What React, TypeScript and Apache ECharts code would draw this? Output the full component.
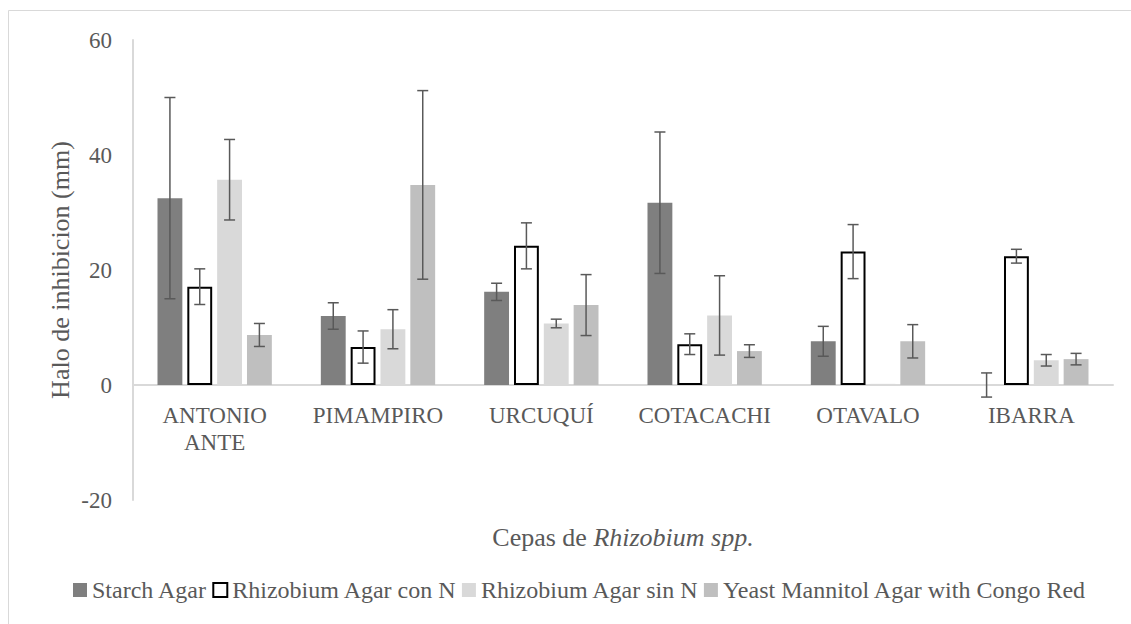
import React, { useEffect, useRef } from "react";
import * as echarts from "echarts";

const categories = ["ANTONIO\nANTE", "PIMAMPIRO", "URCUQUÍ", "COTACACHI", "OTAVALO", "IBARRA"];
const seriesNames = [
  "Starch Agar",
  "Rhizobium Agar con N",
  "Rhizobium Agar sin N",
  "Yeast Mannitol Agar with Congo Red",
];
const starch = [32.5, 12.0, 16.2, 31.7, 7.6, 0];
const starchErr = [17.5, 2.3, 1.5, 12.3, 2.6, 2.1];
const rhizoCon = [17.1, 6.6, 24.2, 7.1, 23.2, 22.4];
const rhizoConErr = [3.1, 2.8, 4.0, 1.8, 4.7, 1.2];
const rhizoSin = [35.7, 9.7, 10.7, 12.1, 0.2, 4.3];
const rhizoSinErr = [7.0, 3.4, 0.75, 6.9, 0, 1.0];
const yeast = [8.7, 34.8, 13.9, 5.9, 7.6, 4.5];
const yeastErr = [2.0, 16.4, 5.3, 1.1, 2.9, 1.0];
const yAxisTicks = { min: -20, max: 60, interval: 20 };

const FONT = "Liberation Serif";
const TXT = "#595959";

export default function App() {
  const ref = useRef<HTMLDivElement>(null);
  useEffect(() => {
    if (!ref.current) return;
    const chart = echarts.init(ref.current, null, { renderer: "svg" });
    const values = [starch, rhizoCon, rhizoSin, yeast];
    const errors = [starchErr, rhizoConErr, rhizoSinErr, yeastErr];
    const styles = [
      { color: "#7f7f7f" },
      { color: "#ffffff", borderColor: "#000000", borderWidth: 2 },
      { color: "#d9d9d9" },
      { color: "#bfbfbf" },
    ];
    const errData: number[][] = [];
    values.forEach((arr, s) => {
      arr.forEach((v, c) => errData.push([c, v, errors[s][c], s]));
    });
    const catGap = 0.3;
    const barGapRatio = 0.2;
    const n = 4;
    const richLabel = (size: number, lh?: number) => ({
      t: { fontFamily: FONT, fontSize: size, color: TXT, lineHeight: lh },
    });
    const option: any = {
      animation: false,
      textStyle: { fontFamily: FONT },
      graphic: [
        {
          type: "rect",
          shape: { x: 8.5, y: 10.5, width: 1300, height: 1000 },
          style: { fill: "none", stroke: "#d9d9d9", lineWidth: 1 },
          silent: true,
        },
        {
          type: "text",
          x: 623,
          y: 537,
          silent: true,
          style: {
            text: "{a|Cepas de }{b|Rhizobium spp.}",
            align: "center",
            verticalAlign: "middle",
            rich: {
              a: { fill: TXT, fontSize: 26, fontFamily: FONT },
              b: { fill: TXT, fontSize: 26, fontFamily: FONT, fontStyle: "italic" },
            },
          },
        },
      ],
      grid: { left: 133, right: 18, top: 40, bottom: 124, outerBoundsMode: "none", containLabel: false },
      legend: {
        data: seriesNames,
        left: 68,
        top: 573,
        icon: "rect",
        itemWidth: 14,
        itemHeight: 14,
        itemGap: 5,
        formatter: (name: string) => "{t|" + name + "}",
        textStyle: { color: TXT, fontSize: 24, fontFamily: FONT, rich: richLabel(24) },
      },
      xAxis: {
        type: "category",
        data: categories,
        axisLine: { onZero: true, lineStyle: { color: "#d9d9d9", width: 2 } },
        axisTick: { show: false },
        axisLabel: {
          interval: 0,
          color: TXT,
          fontSize: 23,
          fontFamily: FONT,
          lineHeight: 27,
          margin: -98,
          formatter: (v: string) =>
            v
              .split("\n")
              .map((p) => "{t|" + p + "}")
              .join("\n"),
          rich: richLabel(23, 27),
        },
      },
      yAxis: {
        type: "value",
        min: yAxisTicks.min,
        max: yAxisTicks.max,
        interval: yAxisTicks.interval,
        axisLine: { show: true, lineStyle: { color: "#d9d9d9", width: 2 } },
        axisTick: { show: false },
        splitLine: { show: false },
        axisLabel: {
          color: TXT,
          fontSize: 23,
          fontFamily: FONT,
          margin: 21,
          formatter: (v: number) => "{t|" + v + "}",
          rich: richLabel(23),
        },
        name: "Halo de inhibicion (mm)",
        nameLocation: "middle",
        nameGap: 60,
        nameMoveOverlap: false,
        nameTextStyle: { color: TXT, fontSize: 26, fontFamily: FONT },
      },
      series: [
        ...values.map((arr, s) => ({
          name: seriesNames[s],
          type: "bar",
          data: arr,
          barCategoryGap: "30%",
          barGap: "20%",
          itemStyle: styles[s],
          z: 2,
        })),
        {
          type: "custom",
          name: "err",
          data: errData,
          z: 5,
          silent: true,
          encode: { x: 0, y: 1 },
          renderItem: (params: any, api: any) => {
            const c = api.value(0);
            const v = api.value(1);
            const e = api.value(2);
            const s = api.value(3);
            if (!e) return null;
            const band = api.size([1, 0])[0];
            const w = (band * (1 - catGap)) / (n + (n - 1) * barGapRatio);
            const base = api.coord([c, v]);
            const x = base[0] - (band * (1 - catGap)) / 2 + w / 2 + s * w * (1 + barGapRatio);
            const yHi = api.coord([c, v + e])[1];
            const yLo = api.coord([c, v - e])[1];
            const cap = 5.5;
            const st = { stroke: "#595959", lineWidth: 1.5 };
            return {
              type: "group",
              children: [
                { type: "line", shape: { x1: x, y1: yHi, x2: x, y2: yLo }, style: st },
                { type: "line", shape: { x1: x - cap, y1: yHi, x2: x + cap, y2: yHi }, style: st },
                { type: "line", shape: { x1: x - cap, y1: yLo, x2: x + cap, y2: yLo }, style: st },
              ],
            };
          },
        },
      ],
    };
    chart.setOption(option);
    return () => chart.dispose();
  }, []);
  return (
    <div
      ref={ref}
      style={{ position: "absolute", left: 0, top: 0, width: 1131, height: 624, background: "#fff" }}
    />
  );
}
